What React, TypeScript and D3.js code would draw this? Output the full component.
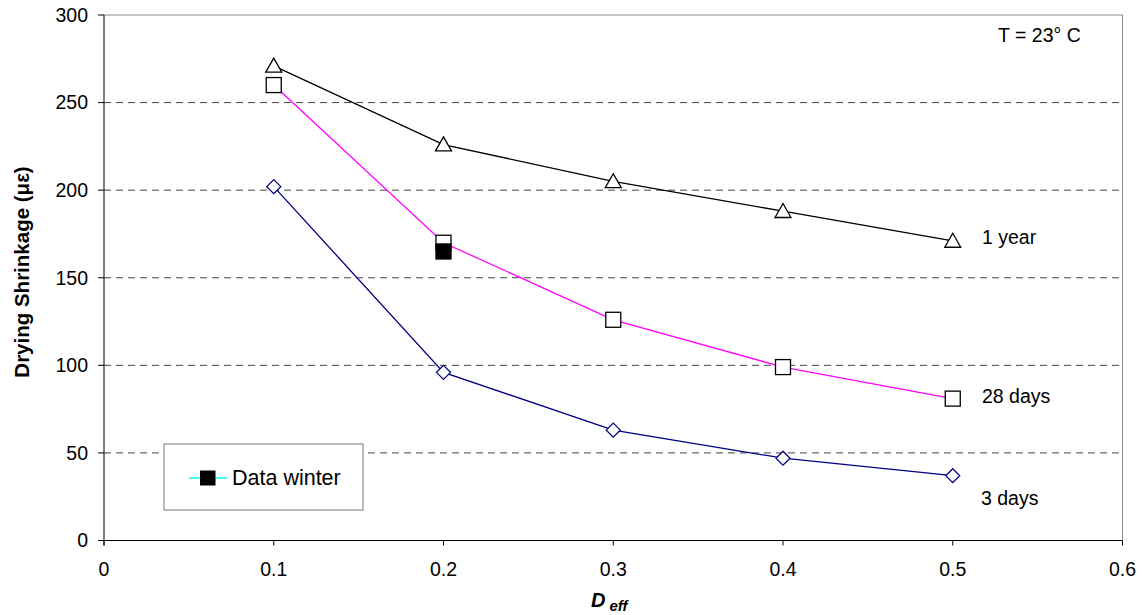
import React from "react";
import * as d3 from "d3";

const deff = [0.1, 0.2, 0.3, 0.4, 0.5];
const oneYear = [271, 226, 205, 188, 171];
const days28 = [260, 170, 126, 99, 81];
const days3 = [202, 96, 63, 47, 37];
const winterX = [0.2];
const winterY = [165];
const xTicks = [0, 0.1, 0.2, 0.3, 0.4, 0.5, 0.6];
const yTicks = [0, 50, 100, 150, 200, 250, 300];

const W = 1143, H = 615;
const L = 104, R = 1122.5, T = 15, B = 540.5;
const font = "'Liberation Sans', Arial, sans-serif";

export default function App() {
  const x = d3.scaleLinear().domain([0, 0.6]).range([L, R]);
  const y = d3.scaleLinear().domain([0, 300]).range([B, T]);
  const line = d3.line<[number, number]>().x(d => x(d[0])).y(d => y(d[1]));
  const pts = (vals: number[]) => deff.map((d, i) => [d, vals[i]] as [number, number]);

  const tri = (cx: number, cy: number, k: string | number) => {
    const h = 14, w = 16;
    const p = `M${cx},${cy - h * 0.55} L${cx + w / 2},${cy + h * 0.45} L${cx - w / 2},${cy + h * 0.45} Z`;
    return <path key={k} d={p} fill="white" stroke="black" strokeWidth={1.3} />;
  };
  const sq = (cx: number, cy: number, k: string | number, fill = "white") => (
    <rect key={k} x={cx - 7.5} y={cy - 7.5} width={15} height={15} fill={fill} stroke="black" strokeWidth={1.3} />
  );
  const dia = (cx: number, cy: number, k: string | number) => (
    <path key={k} d={`M${cx},${cy - 7} L${cx + 7},${cy} L${cx},${cy + 7} L${cx - 7},${cy} Z`} fill="white" stroke="#000080" strokeWidth={1.3} />
  );

  return (
    <svg width={W} height={H} style={{ position: "absolute", left: 0, top: 0 }}>
      <rect x={0} y={0} width={W} height={H} fill="white" />
      {yTicks.filter(t => t > 0 && t < 300).map(t => (
        <line key={t} x1={L} x2={R} y1={y(t)} y2={y(t)} stroke="#444" strokeDasharray="7,5" strokeWidth={1} />
      ))}
      <line x1={L} x2={R} y1={y(300)} y2={y(300)} stroke="#888" strokeWidth={1} />
      <line x1={R} x2={R} y1={T} y2={B} stroke="#888" strokeWidth={1} />
      <line x1={L} x2={L} y1={T} y2={B + 5} stroke="black" strokeWidth={1} />
      <line x1={L - 6} x2={R} y1={B} y2={B} stroke="black" strokeWidth={1} />
      {yTicks.map(t => (
        <g key={t}>
          <line x1={L - 6} x2={L} y1={y(t)} y2={y(t)} stroke="black" />
          <text x={88} y={y(t)} dy="0.35em" textAnchor="end" fontFamily={font} fontSize={19.5}>{t}</text>
        </g>
      ))}
      {xTicks.map(t => (
        <g key={t}>
          <line x1={x(t)} x2={x(t)} y1={B} y2={B + 5} stroke="black" />
          <text x={x(t)} y={576} textAnchor="middle" fontFamily={font} fontSize={19.5}>{t}</text>
        </g>
      ))}
      <path d={line(pts(oneYear)) || ""} fill="none" stroke="black" strokeWidth={1.3} />
      <path d={line(pts(days28)) || ""} fill="none" stroke="#ff00ff" strokeWidth={1.3} />
      <path d={line(pts(days3)) || ""} fill="none" stroke="#000080" strokeWidth={1.3} />
      {pts(oneYear).map((d, i) => tri(x(d[0]), y(d[1]), "t" + i))}
      {pts(days28).map((d, i) => sq(x(d[0]), y(d[1]), "s" + i))}
      {pts(days3).map((d, i) => dia(x(d[0]), y(d[1]), "d" + i))}
      {winterX.map((v, i) => sq(x(v), y(winterY[i]), "w" + i, "black"))}
      <text x={982} y={244} fontFamily={font} fontSize={19.5}>1 year</text>
      <text x={982} y={403} fontFamily={font} fontSize={19.5}>28 days</text>
      <text x={981} y={505} fontFamily={font} fontSize={19.5}>3 days</text>
      <text x={998} y={41.5} fontFamily={font} fontSize={19.5}>T = 23° C</text>
      <rect x={164} y={444} width={199} height={66} fill="white" stroke="#777" strokeWidth={1} />
      <line x1={189} x2={227} y1={478} y2={478} stroke="#00ffff" strokeWidth={1.3} />
      <rect x={200.5} y={471} width={14.5} height={14} fill="black" stroke="black" />
      <text x={232} y={485} fontFamily={font} fontSize={21.5}>Data winter</text>
      <text transform="translate(29,272) rotate(-90)" textAnchor="middle" fontFamily={font} fontSize={20.5} fontWeight="bold">Drying Shrinkage (με)</text>
      <text x={591} y={607} fontFamily={font} fontSize={20} fontWeight="bold" fontStyle="italic">D<tspan fontSize={15} dx={4} dy={4}>eff</tspan></text>
    </svg>
  );
}
